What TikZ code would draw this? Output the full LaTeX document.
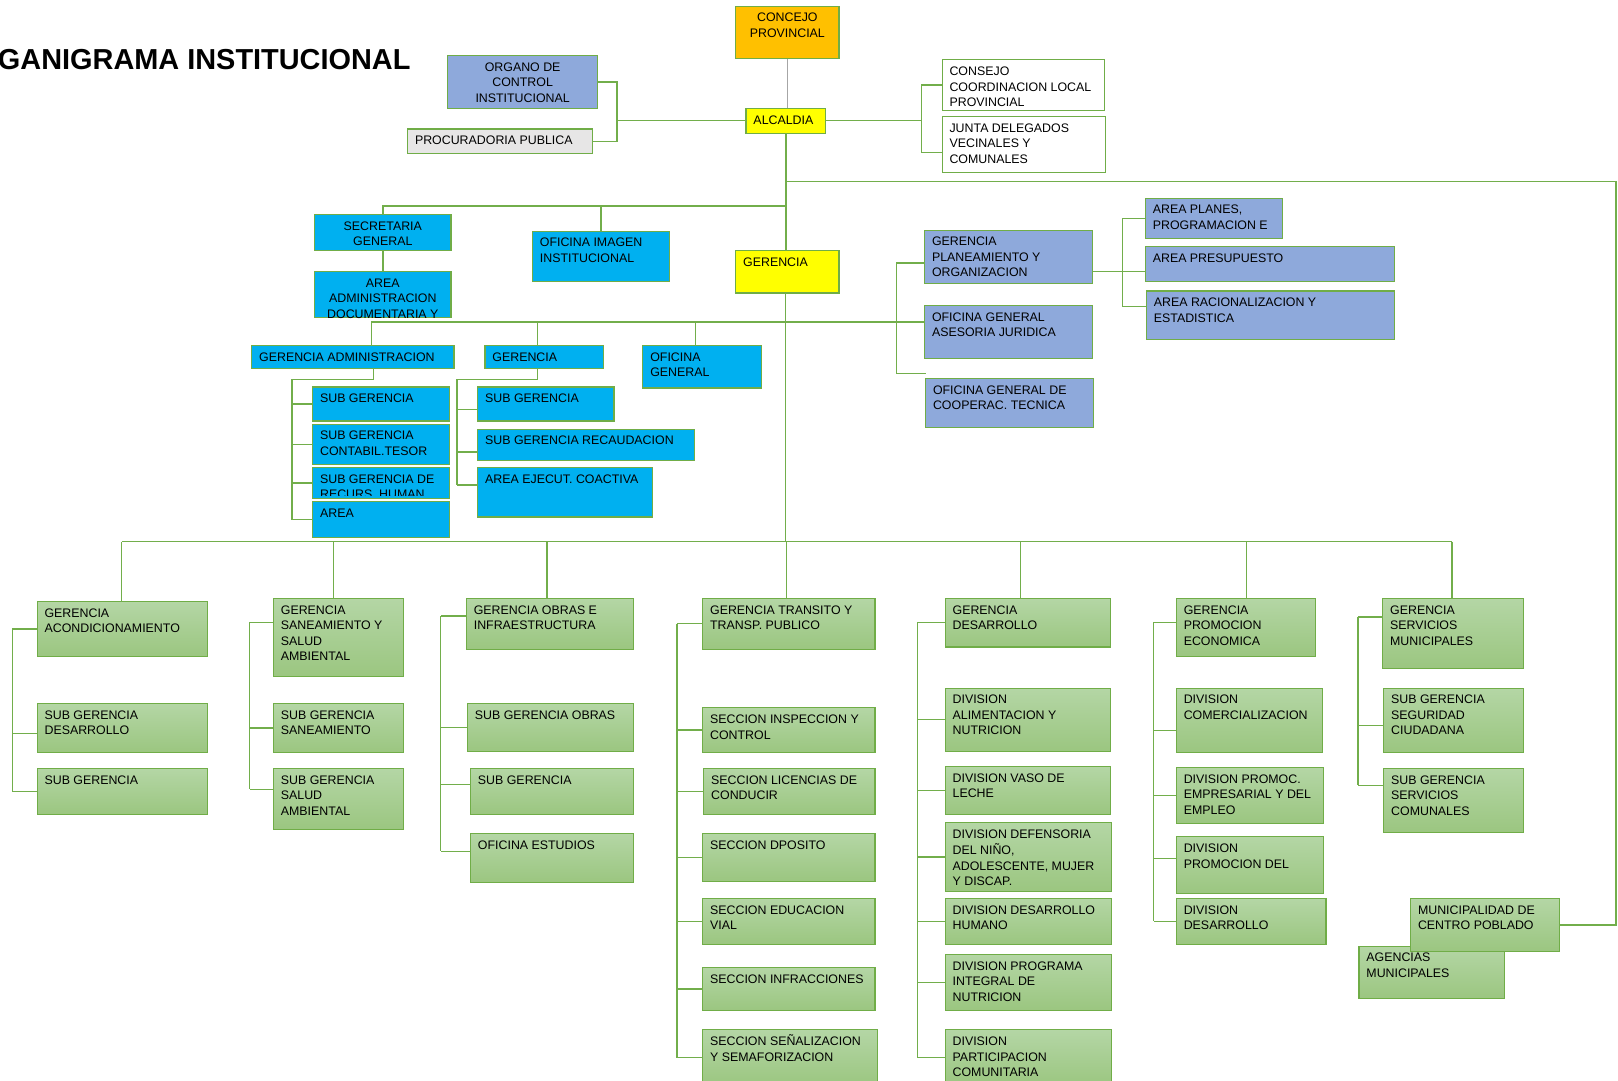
\documentclass[tikz,border=0pt]{standalone}
\usepackage{fontspec}
\setmainfont{Liberation Sans}

\definecolor{orgorange}{HTML}{FFC000}
\definecolor{orgyellow}{HTML}{FFFF00}
\definecolor{orgcyan}{HTML}{00B0F0}
\definecolor{orgslate}{HTML}{8EA9DB}
\definecolor{orggray}{HTML}{E7E6E6}
\definecolor{boxline}{HTML}{70AD47}
\definecolor{linegreen}{HTML}{72AE4B}
\definecolor{gtop}{HTML}{B4D6A5}
\definecolor{gbot}{HTML}{9BC680}

\tikzset{
  orgbox/.style={draw=boxline, line width=1.1pt, rectangle, inner sep=0pt, outer sep=0pt},
  orangebox/.style={orgbox, fill=orgorange},
  yellowbox/.style={orgbox, fill=orgyellow},
  cyanbox/.style={orgbox, fill=orgcyan},
  slatebox/.style={orgbox, fill=orgslate},
  graybox/.style={orgbox, fill=orggray},
  whitebox/.style={orgbox, fill=white},
  greenbox/.style={orgbox, top color=gtop, bottom color=gbot},
  txtl/.style={anchor=north west, inner sep=0pt, align=left, font=\fontsize{12}{15}\selectfont},
  txtc/.style={anchor=north, inner sep=0pt, align=center, font=\fontsize{12}{15}\selectfont},
  conn/.style={draw=linegreen, line width=1.3pt},
  mainconn/.style={conn, line width=1.8pt},
  grayconn/.style={draw=gray!70, line width=0.8pt},
}

% box with text at top left: name, style, left, top, right, bottom, text
\newcommand{\ubox}[7]{%
  \node[#2, anchor=north west, minimum width=#5pt-#3pt, minimum height=#6pt-#4pt] (#1) at (#3,#4) {};
  \node[txtl] (#1-t) at ([xshift=7pt,yshift=-4.5pt]#1.north west) {\strut #7};}
% same, text centred
\newcommand{\cbox}[7]{%
  \node[#2, anchor=north west, minimum width=#5pt-#3pt, minimum height=#6pt-#4pt] (#1) at (#3,#4) {};
  \node[txtc] (#1-t) at ([yshift=-4.5pt]#1.north) {\strut #7};}
% side branches into a bracket line at x = #1
\newcommand{\branches}[2]{%
  \foreach \n/\d in {#2}{%
    \coordinate (\n-w) at ([yshift=\d pt]\n.west);
    \coordinate (\n-k) at (#1,0 |- \n-w);
    \draw[conn] (\n-w) -- (\n-k);
  }}

\begin{document}
\begin{tikzpicture}[x=1pt,y=-1pt]
\useasboundingbox (0,0) rectangle (1568,1047);

\node[font=\bfseries\fontsize{28}{34}\selectfont, anchor=base east, inner sep=0pt] (title) at (398,67) {GANIGRAMA INSTITUCIONAL};

% top level
\cbox{con}{orangebox}{713}{6}{813}{57}{CONCEJO\\PROVINCIAL}
\cbox{org}{slatebox}{434}{54}{579}{105}{ORGANO DE\\CONTROL\\INSTITUCIONAL}
\ubox{pro}{graybox}{395}{125}{574}{149}{PROCURADORIA PUBLICA}
\ubox{alc}{yellowbox}{723}{105}{800}{129}{ALCALDIA}
\ubox{ccl}{whitebox}{913}{58}{1070}{107}{CONSEJO\\COORDINACION LOCAL\\PROVINCIAL}
\ubox{jdv}{whitebox}{913}{113}{1071}{167}{JUNTA DELEGADOS\\VECINALES Y\\COMUNALES}

\cbox{sec}{cyanbox}{305}{208}{437}{243}{SECRETARIA\\GENERAL}
\cbox{aad}{cyanbox}{305}{263}{437}{308}{AREA\\ADMINISTRACION\\DOCUMENTARIA Y}
\ubox{oii}{cyanbox}{516}{224}{649}{273}{OFICINA IMAGEN\\INSTITUCIONAL}
\ubox{ger}{yellowbox}{713}{243}{813}{284}{GERENCIA}

\ubox{gpo}{slatebox}{896}{223}{1059}{275}{GERENCIA\\PLANEAMIENTO Y\\ORGANIZACION}
\ubox{aju}{slatebox}{896}{296}{1059}{347}{OFICINA GENERAL\\ASESORIA JURIDICA}
\ubox{oct}{slatebox}{897}{367}{1060}{414}{OFICINA GENERAL DE\\COOPERAC. TECNICA}
\ubox{apl}{slatebox}{1110}{192}{1243}{231}{AREA PLANES,\\PROGRAMACION E}
\ubox{apr}{slatebox}{1110}{239}{1351}{273}{AREA PRESUPUESTO}
\ubox{ara}{slatebox}{1111}{282}{1351}{329}{AREA RACIONALIZACION Y\\ESTADISTICA}

\ubox{gad}{cyanbox}{244}{335}{440}{357}{GERENCIA ADMINISTRACION}
\ubox{gre}{cyanbox}{470}{335}{585}{357}{GERENCIA}
\ubox{ogn}{cyanbox}{623}{335}{738}{376}{OFICINA\\GENERAL}
\ubox{sa1}{cyanbox}{303}{375}{436}{408}{SUB GERENCIA}
\ubox{sa2}{cyanbox}{303}{411}{436}{450}{SUB GERENCIA\\CONTABIL.TESOR}
\node[cyanbox, anchor=north west, minimum width=133pt, minimum height=30pt] (sa3) at (303,453) {};
\begin{scope}
\clip (303,453) rectangle (436,480);
\node[txtl] (sa3-t) at ([xshift=7pt,yshift=-4.5pt]sa3.north west) {\strut SUB GERENCIA DE\\RECURS. HUMAN};
\end{scope}
\ubox{sa4}{cyanbox}{303}{486}{436}{521}{AREA}
\ubox{sr1}{cyanbox}{463}{375}{595}{408}{SUB GERENCIA}
\ubox{sr2}{cyanbox}{463}{416}{673}{446}{SUB GERENCIA RECAUDACION}
\ubox{sr3}{cyanbox}{463}{453}{632}{501}{AREA EJECUT. COACTIVA}

% lower gerencias
\ubox{gac}{greenbox}{36}{583}{201}{636}{GERENCIA\\ACONDICIONAMIENTO}
\ubox{ga1}{greenbox}{36}{682}{201}{729}{SUB GERENCIA\\DESARROLLO}
\ubox{ga2}{greenbox}{36}{745}{201}{789}{SUB GERENCIA}

\ubox{gsa}{greenbox}{265}{580}{391}{656}{GERENCIA\\SANEAMIENTO Y\\SALUD\\AMBIENTAL}
\ubox{gs1}{greenbox}{265}{682}{391}{729}{SUB GERENCIA\\SANEAMIENTO}
\ubox{gs2}{greenbox}{265}{745}{391}{804}{SUB GERENCIA\\SALUD\\AMBIENTAL}

\ubox{gob}{greenbox}{452}{580}{614}{629}{GERENCIA OBRAS E\\INFRAESTRUCTURA}
\ubox{go1}{greenbox}{453}{682}{614}{728}{SUB GERENCIA OBRAS}
\ubox{go2}{greenbox}{456}{745}{614}{789}{SUB GERENCIA}
\ubox{go3}{greenbox}{456}{808}{614}{855}{OFICINA ESTUDIOS}

\ubox{gtr}{greenbox}{681}{580}{848}{629}{GERENCIA TRANSITO Y\\TRANSP. PUBLICO}
\ubox{gt1}{greenbox}{681}{686}{848}{729}{SECCION INSPECCION Y\\CONTROL}
\ubox{gt2}{greenbox}{682}{745}{848}{789}{SECCION LICENCIAS DE\\CONDUCIR}
\ubox{gt3}{greenbox}{681}{808}{848}{854}{SECCION DPOSITO}
\ubox{gt4}{greenbox}{681}{871}{848}{915}{SECCION EDUCACION\\VIAL}
\ubox{gt5}{greenbox}{681}{938}{848}{979}{SECCION INFRACCIONES}
\ubox{gt6}{greenbox}{681}{998}{850}{1052}{SECCION SEÑALIZACION\\Y SEMAFORIZACION}

\ubox{gde}{greenbox}{916}{580}{1076}{627}{GERENCIA\\DESARROLLO}
\ubox{gd1}{greenbox}{916}{667}{1076}{728}{DIVISION\\ALIMENTACION Y\\NUTRICION}
\ubox{gd2}{greenbox}{916}{743}{1076}{789}{DIVISION VASO DE\\LECHE}
\ubox{gd3}{greenbox}{916}{797}{1077}{864}{DIVISION DEFENSORIA\\DEL NIÑO,\\ADOLESCENTE, MUJER\\Y DISCAP.}
\ubox{gd4}{greenbox}{916}{871}{1077}{915}{DIVISION DESARROLLO\\HUMANO}
\ubox{gd5}{greenbox}{916}{925}{1077}{979}{DIVISION PROGRAMA\\INTEGRAL DE\\NUTRICION}
\ubox{gd6}{greenbox}{916}{998}{1077}{1052}{DIVISION\\PARTICIPACION\\COMUNITARIA}

\ubox{gpe}{greenbox}{1140}{580}{1275}{636}{GERENCIA\\PROMOCION\\ECONOMICA}
\ubox{gp1}{greenbox}{1140}{667}{1282}{729}{DIVISION\\COMERCIALIZACION}
\ubox{gp2}{greenbox}{1140}{744}{1283}{798}{DIVISION PROMOC.\\EMPRESARIAL Y DEL\\EMPLEO}
\ubox{gp3}{greenbox}{1140}{811}{1283}{866}{DIVISION\\PROMOCION DEL}
\ubox{gp4}{greenbox}{1140}{871}{1285}{915}{DIVISION\\DESARROLLO}

\ubox{gsm}{greenbox}{1340}{580}{1476}{648}{GERENCIA\\SERVICIOS\\MUNICIPALES}
\ubox{gm1}{greenbox}{1341}{667}{1476}{729}{SUB GERENCIA\\SEGURIDAD\\CIUDADANA}
\ubox{gm2}{greenbox}{1341}{745}{1476}{807}{SUB GERENCIA\\SERVICIOS\\COMUNALES}
\ubox{age}{greenbox}{1317}{917}{1458}{968}{AGENCIAS\\MUNICIPALES}
\ubox{mun}{greenbox}{1367}{871}{1511}{922}{MUNICIPALIDAD DE\\CENTRO POBLADO}

% connectors, top
\coordinate (jl) at (598,0 |- alc.west);
\coordinate (jr) at (893,0 |- alc.east);
\coordinate (busA) at (0,200);
\coordinate (busB) at (0,312);
\coordinate (busC) at (0,525);
\draw[grayconn] (con.south) -- (con.south |- alc.north);
\draw[conn] (alc.west) -- (jl);
\draw[conn] (org.east) -| (jl) |- (pro.east);
\draw[conn] (alc.east) -- (jr);
\draw[conn] (ccl.west) -| (jr) |- ([yshift=-7.5pt]jdv.west);

\draw[mainconn] (alc.south) -- (alc.south |- ger.north);
\draw[conn] (alc.south |- ger.south) -- (alc.south |- busC);
\draw[conn] (alc.south |- 0,176) -| (1566,0 |- mun.east) -- (mun.east);
\draw[mainconn] (sec.north) |- (alc.south |- busA);
\draw[conn] (oii.north) -- (oii.north |- busA);
\draw[mainconn] (sec.south) -- (aad.north);

% second bus
\coordinate (jp) at (869,0 |- busB);
\coordinate (octb) at ([yshift=5pt]oct.north west);
\draw[conn] (360,0 |- gad.north) |- (aju.west |- busB);
\draw[conn] (521,0 |- gre.north) -- (521,0 |- busB);
\draw[conn] (674,0 |- ogn.north) -- (674,0 |- busB);
\draw[conn] ([yshift=-6pt]gpo.west) -| (octb -| jp) -- (octb);

\coordinate (jq) at (1088,263);
\coordinate (arab) at ([yshift=8.5pt]ara.west);
\draw[conn] ([yshift=-14pt]gpo.east) -- (jq) -- (jq -| apr.west);
\draw[conn] (apl.west) -| (arab -| jq) -- (arab);

\branches{283}{sa1/0,sa2/0,sa3/0,sa4/0}
\draw[conn] (362,0 |- gad.south) |- (283,368) -- (sa4-k);
\branches{443}{sr1/-5.5,sr2/-7,sr3/7}
\draw[conn] (521,0 |- gre.south) |- (443,368) -- (sr3-k);

% lower bus
\draw[conn] (118,0 |- busC) -- (1407,0 |- busC);
\foreach \n/\x in {gac/118,gsa/323,gob/530,gtr/762,gde/989,gpe/1208,gsm/1407}
  \draw[conn] (\x,0 |- busC) -- (\x,0 |- \n.north);

\branches{12}{gac/0,ga1/-5.5,ga2/0}
\draw[conn] (gac-k) -- (ga2-k);
\branches{242}{gsa/15,gs1/0,gs2/9.5}
\draw[conn] (gsa-k) -- (gs2-k);
\branches{427}{gob/7.5,go1/0,go2/7,go3/6.5}
\draw[conn] (gob-k) -- (go3-k);
\branches{656}{gtr/0,gt1/0,gt2/0,gt3/0,gt4/0,gt5/0,gt6/0}
\draw[conn] (gtr-k) -- (gt6-k);
\branches{889}{gde/0,gd1/0,gd2/0,gd3/0,gd4/0,gd5/0,gd6/0}
\draw[conn] (gde-k) -- (gd6-k);
\branches{1118}{gpe/5,gp1/-10,gp2/0,gp3/6.5,gp4/0}
\draw[conn] (gpe-k) -- (gp4-k);
\branches{1316}{gsm/16,gm1/-5,gm2/15}
\draw[conn] (gsm-k) -- (gm2-k);
\end{tikzpicture}
\end{document}
